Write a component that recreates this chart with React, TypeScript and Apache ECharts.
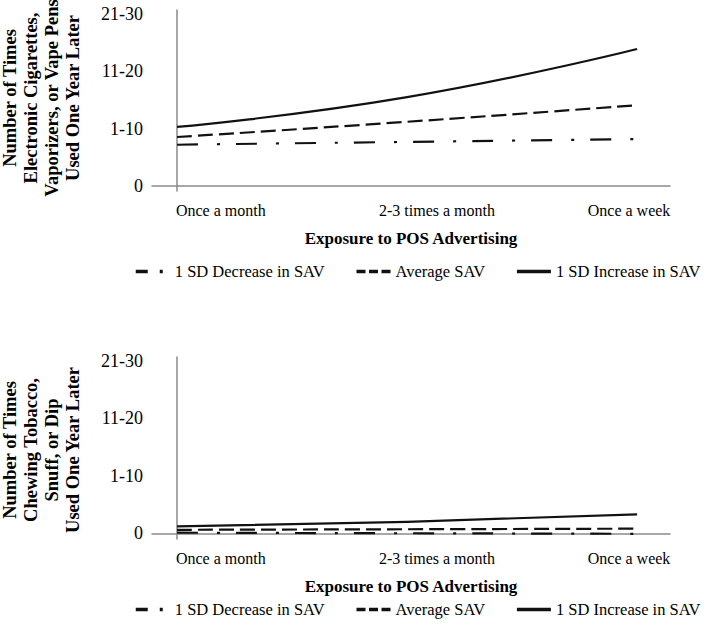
import React, { useEffect, useRef } from "react";
import * as echarts from "echarts";

// ---- data ----
const categories = ["Once a month", "2-3 times a month", "Once a week"];
const yTickLabels = ["0", "1-10", "11-20", "21-30"];
const seriesNames = ["1 SD Decrease in SAV", "Average SAV", "1 SD Increase in SAV"];

const ecigDecrease = [0.72, 0.77, 0.82];
const ecigAverage = [0.855, 1.12, 1.41];
const ecigIncrease = [1.03, 1.55, 2.39];

const chewDecrease = [0.01, 0.0, -0.01];
const chewAverage = [0.06, 0.07, 0.08];
const chewIncrease = [0.12, 0.2, 0.33];

const xTitle = "Exposure to POS Advertising";
const ecigYTitle = "Number of Times\nElectronic Cigarettes,\nVaporizers, or Vape Pens\nUsed One Year Later";
const chewYTitle = "Number of Times\nChewing Tobacco,\nSnuff, or Dip\nUsed One Year Later";

// ---- layout (not data) ----
const categoryLabelAt = [0.19, 1.13, 1.965];
const FONT = "'Liberation Serif', 'Times New Roman', serif";
const LINE_COLOR = "#111";
const AXIS_COLOR = "#8a8a8a";
const dashes = {
  dec: [21, 19, 3, 16],
  avg: [15, 6],
};

export default function App() {
  const ref = useRef<HTMLDivElement>(null);

  useEffect(() => {
    if (!ref.current) return;
    const chart = echarts.init(ref.current, null, { renderer: "svg" });

    const xAxisCommon = (gridIndex: number) => ({
      type: "value" as const,
      gridIndex,
      min: -0.109,
      max: 2.143,
      axisLine: { show: true, lineStyle: { color: AXIS_COLOR, width: 1.5 } },
      axisTick: { show: false },
      splitLine: { show: false },
      axisLabel: {
        customValues: categoryLabelAt,
        formatter: (val: number) => {
          const idx = categoryLabelAt.findIndex((p) => Math.abs(p - val) < 1e-6);
          return idx >= 0 ? categories[idx] : "";
        },
        margin: 11,
        fontFamily: FONT,
        fontSize: 16,
        color: "#000",
      },
      name: xTitle,
      nameLocation: "middle" as const,
      nameGap: 39,
      nameTextStyle: { fontFamily: FONT, fontSize: 17, fontWeight: "bold" as const, color: "#000" },
    });

    const yAxisCommon = (gridIndex: number, min: number) => ({
      type: "value" as const,
      gridIndex,
      min,
      max: 3.07,
      axisLine: { show: true, lineStyle: { color: AXIS_COLOR, width: 1.5 } },
      axisTick: { show: false },
      splitLine: { show: false },
      axisLabel: {
        customValues: [0, 1, 2, 3],
        formatter: (val: number) => yTickLabels[Math.round(val)] ?? "",
        margin: 9,
        fontFamily: FONT,
        fontSize: 18,
        color: "#000",
      },
    });

    const mk = (name: string, values: number[], idx: number, dash: any) => ({
      type: "line" as const,
      name,
      xAxisIndex: idx,
      yAxisIndex: idx,
      data: values.map((v, i) => [i, v]),
      smooth: true,
      symbol: "none",
      lineStyle: { color: LINE_COLOR, width: 2.2, type: dash },
      itemStyle: { color: LINE_COLOR },
    });

    const hidden = { opacity: 0, borderWidth: 0 };
    const legendCommon = (top: number) => ({
      top,
      left: 134,
      width: 580,
      padding: 0,
      itemWidth: 34,
      itemHeight: 14,
      itemGap: 30,
      textStyle: { fontFamily: FONT, fontSize: 16.5, color: "#000" },
      data: [
        { name: seriesNames[0], itemStyle: hidden, lineStyle: { width: 3.5, type: [12, 12, 3, 20] } },
        { name: seriesNames[1], itemStyle: hidden, lineStyle: { width: 3.5, type: [9, 3.5] } },
        { name: seriesNames[2], itemStyle: hidden, lineStyle: { width: 3.5 } },
      ],
    });

    const yTitle = (text: string, y: number) => ({
      type: "text",
      x: 41,
      y,
      rotation: Math.PI / 2,
      style: {
        text,
        fontFamily: FONT,
        fontSize: 18.5,
        fontWeight: "bold",
        lineHeight: 21,
        fill: "#000",
        align: "center",
        verticalAlign: "middle",
      },
    });

    chart.setOption({
      animation: false,
      backgroundColor: "#fff",
      grid: [
        { left: 152, right: 44, top: 10, height: 181 },
        { left: 152, right: 44, top: 357, height: 182 },
      ],
      xAxis: [xAxisCommon(0), xAxisCommon(1)],
      yAxis: [yAxisCommon(0, -0.087), yAxisCommon(1, -0.1)],
      legend: [legendCommon(263), legendCommon(601)],
      graphic: [yTitle(ecigYTitle, 98), yTitle(chewYTitle, 450)],
      series: [
        mk(seriesNames[0], ecigDecrease, 0, dashes.dec),
        mk(seriesNames[1], ecigAverage, 0, dashes.avg),
        mk(seriesNames[2], ecigIncrease, 0, "solid"),
        mk(seriesNames[0], chewDecrease, 1, dashes.dec),
        mk(seriesNames[1], chewAverage, 1, dashes.avg),
        mk(seriesNames[2], chewIncrease, 1, "solid"),
      ],
    });

    return () => chart.dispose();
  }, []);

  return (
    <div
      ref={ref}
      style={{ position: "absolute", left: 0, top: 0, width: 714, height: 631, background: "#fff" }}
    />
  );
}
